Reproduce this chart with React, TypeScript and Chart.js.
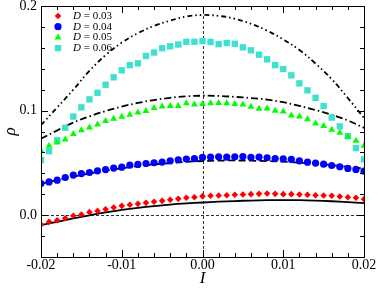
import React, { useEffect, useRef } from 'react';
import { Chart, registerables } from 'chart.js';

Chart.register(...registerables);

// Current I values of the symbols
const I_POINTS = [
  -0.020, -0.019, -0.018, -0.017, -0.016, -0.015, -0.014, -0.013, -0.012, -0.011,
  -0.010, -0.009, -0.008, -0.007, -0.006, -0.005, -0.004, -0.003, -0.002, -0.001,
  0.000, 0.001, 0.002, 0.003, 0.004, 0.005, 0.006, 0.007, 0.008, 0.009,
  0.010, 0.011, 0.012, 0.013, 0.014, 0.015, 0.016, 0.017, 0.018, 0.019, 0.020,
];

// Current I values of the black curves
const I_CURVE = [
  -0.020, -0.018, -0.016, -0.014, -0.012, -0.010, -0.008, -0.006, -0.004, -0.002,
  0.000, 0.002, 0.004, 0.006, 0.008, 0.010, 0.012, 0.014, 0.016, 0.018, 0.020,
];

const D_LABELS = ['0.03', '0.04', '0.05', '0.06'];

const RHO_D003 = [
  -0.0089, -0.0064, -0.0048, -0.0029, -0.0006, 0.0006, 0.0029, 0.0041, 0.0057, 0.0073,
  0.0089, 0.0099, 0.0108, 0.0118, 0.0128, 0.0137, 0.0147, 0.0156, 0.0166, 0.0172,
  0.0182, 0.0185, 0.0188, 0.0191, 0.0195, 0.0198, 0.0201, 0.0204, 0.0207, 0.0204,
  0.0201, 0.0201, 0.0198, 0.0195, 0.0191, 0.0188, 0.0185, 0.0179, 0.0172, 0.0166, 0.0153,
];

const RHO_D004 = [
  0.0303, 0.0318, 0.0335, 0.0360, 0.0383, 0.0398, 0.0408, 0.0424, 0.0436, 0.0450,
  0.0459, 0.0478, 0.0485, 0.0494, 0.0501, 0.0508, 0.0520, 0.0530, 0.0536, 0.0540,
  0.0552, 0.0555, 0.0558, 0.0555, 0.0558, 0.0561, 0.0552, 0.0555, 0.0549, 0.0542,
  0.0539, 0.0533, 0.0520, 0.0507, 0.0498, 0.0488, 0.0475, 0.0463, 0.0447, 0.0437, 0.0421,
];

const RHO_D005 = [
  0.0615, 0.0663, 0.0695, 0.0724, 0.0775, 0.0813, 0.0839, 0.0868, 0.0900, 0.0922,
  0.0941, 0.0960, 0.0982, 0.0995, 0.1024, 0.1040, 0.1043, 0.1043, 0.1069, 0.1059,
  0.1062, 0.1069, 0.1072, 0.1069, 0.1062, 0.1059, 0.1037, 0.1018, 0.1021, 0.0999,
  0.0992, 0.0954, 0.0944, 0.0916, 0.0877, 0.0852, 0.0817, 0.0788, 0.0750, 0.0711, 0.0663,
];

const RHO_D006 = [
  0.0526, 0.0612, 0.0718, 0.0835, 0.0943, 0.1031, 0.1107, 0.1170, 0.1247, 0.1318,
  0.1385, 0.1434, 0.1452, 0.1522, 0.1555, 0.1596, 0.1615, 0.1632, 0.1658, 0.1658,
  0.1665, 0.1656, 0.1636, 0.1646, 0.1639, 0.1605, 0.1576, 0.1534, 0.1490, 0.1435,
  0.1397, 0.1337, 0.1260, 0.1193, 0.1122, 0.1043, 0.0933, 0.0849, 0.0756, 0.0641, 0.0533,
];

const CURVE_D003 = [
  -0.0096, -0.0063, -0.0031, -0.0001, 0.0027, 0.0050, 0.0070, 0.0087, 0.0101, 0.0112,
  0.0121, 0.0129, 0.0135, 0.0140, 0.0143, 0.0144, 0.0143, 0.0139, 0.0133, 0.0125, 0.0115,
];
const CURVE_D004 = [
  0.0300, 0.0335, 0.0368, 0.0398, 0.0425, 0.0448, 0.0468, 0.0485, 0.0498, 0.0510,
  0.0518, 0.0522, 0.0523, 0.0521, 0.0517, 0.0511, 0.0502, 0.0491, 0.0478, 0.0463, 0.0445,
];
const CURVE_D005 = [
  0.0730, 0.0810, 0.0885, 0.0945, 0.0995, 0.1038, 0.1073, 0.1101, 0.1122, 0.1136,
  0.1142, 0.1140, 0.1131, 0.1120, 0.1105, 0.1080, 0.1045, 0.1005, 0.0960, 0.0905, 0.0835,
];
const CURVE_D006 = [
  0.0860, 0.1030, 0.1200, 0.1380, 0.1530, 0.1650, 0.1740, 0.1810, 0.1860, 0.1900,
  0.1914, 0.1905, 0.1878, 0.1830, 0.1765, 0.1680, 0.1580, 0.1450, 0.1300, 0.1120, 0.0930,
];

const X_TICKS = [-0.02, -0.01, 0, 0.01, 0.02];
const X_MINOR_STEP = 0.002;
const Y_TICKS = [0, 0.1, 0.2];
const Y_MINOR_STEP = 0.02;

const SERIES = [
  { values: RHO_D003, color: '#ff0000', style: 'rectRot', radius: 3.3 },
  { values: RHO_D004, color: '#0000ff', style: 'circle', radius: 3.6 },
  { values: RHO_D005, color: '#00ff00', style: 'triangle', radius: 4.0 },
  { values: RHO_D006, color: '#40e0d0', style: 'rect', radius: 4.5 },
];

const CURVES = [
  { values: CURVE_D003, dash: [] as number[] },
  { values: CURVE_D004, dash: [7, 3.5] },
  { values: CURVE_D005, dash: [7, 3, 1.5, 3] },
  { values: CURVE_D006, dash: [5, 3, 1.5, 3, 1.5, 3] },
];

const SERIF = "'Liberation Serif', 'DejaVu Serif', serif";

function drawMarker(ctx: CanvasRenderingContext2D, style: string, x: number, y: number, r: number, color: string) {
  ctx.save();
  ctx.fillStyle = color;
  ctx.beginPath();
  if (style === 'rectRot') {
    ctx.moveTo(x, y - r);
    ctx.lineTo(x + r, y);
    ctx.lineTo(x, y + r);
    ctx.lineTo(x - r, y);
    ctx.closePath();
  } else if (style === 'circle') {
    ctx.arc(x, y, r, 0, Math.PI * 2);
  } else if (style === 'triangle') {
    const s = Math.sin(Math.PI / 3) * r;
    ctx.moveTo(x, y - r);
    ctx.lineTo(x + s, y + r / 2);
    ctx.lineTo(x - s, y + r / 2);
    ctx.closePath();
  } else {
    const h = r * Math.SQRT1_2;
    ctx.rect(x - h, y - h, 2 * h, 2 * h);
  }
  ctx.fill();
  ctx.restore();
}

const framePlugin = {
  id: 'graceFrame',
  beforeDatasetsDraw(chart: any) {
    const { ctx, chartArea: a, scales } = chart;
    const x0 = scales.x.getPixelForValue(0);
    const y0 = scales.y.getPixelForValue(0);
    ctx.save();
    ctx.strokeStyle = '#333';
    ctx.lineWidth = 1;
    ctx.setLineDash([3, 2]);
    ctx.beginPath();
    ctx.moveTo(Math.round(x0) + 0.5, a.top);
    ctx.lineTo(Math.round(x0) + 0.5, a.bottom);
    ctx.moveTo(a.left, Math.round(y0) + 0.5);
    ctx.lineTo(a.right, Math.round(y0) + 0.5);
    ctx.stroke();
    ctx.restore();
  },
  afterDatasetsDraw(chart: any) {
    const { ctx, chartArea: a, scales } = chart;
    const xs = scales.x;
    const ys = scales.y;
    ctx.save();
    ctx.strokeStyle = '#000';
    ctx.lineWidth = 1;
    ctx.setLineDash([]);
    ctx.strokeRect(Math.round(a.left) + 0.5, Math.round(a.top) + 0.5, Math.round(a.right - a.left), Math.round(a.bottom - a.top));
    const MAJ = 7;
    const MIN = 4;
    ctx.beginPath();
    const nx = Math.round((xs.max - xs.min) / X_MINOR_STEP);
    for (let i = 0; i <= nx; i++) {
      const v = xs.min + i * X_MINOR_STEP;
      const major = X_TICKS.some((t) => Math.abs(t - v) < 1e-9);
      const len = major ? MAJ : MIN;
      const px = Math.round(xs.getPixelForValue(v)) + 0.5;
      ctx.moveTo(px, a.bottom);
      ctx.lineTo(px, a.bottom - len);
      ctx.moveTo(px, a.top);
      ctx.lineTo(px, a.top + len);
    }
    const ny = Math.round((ys.max - ys.min) / Y_MINOR_STEP);
    for (let i = 0; i <= ny; i++) {
      const v = ys.min + i * Y_MINOR_STEP;
      const major = Y_TICKS.some((t) => Math.abs(t - v) < 1e-9);
      const len = major ? MAJ : MIN;
      const py = Math.round(ys.getPixelForValue(v)) + 0.5;
      ctx.moveTo(a.left, py);
      ctx.lineTo(a.left + len, py);
      ctx.moveTo(a.right, py);
      ctx.lineTo(a.right - len, py);
    }
    ctx.stroke();

    // legend
    const lx = a.left + 17;
    const tx = a.left + 32;
    const ly0 = a.top + 10;
    const dy = 10.7;
    ctx.fillStyle = '#000';
    ctx.textBaseline = 'middle';
    ctx.textAlign = 'left';
    SERIES.forEach((s, i) => {
      const y = ly0 + i * dy;
      drawMarker(ctx, s.style, lx, y, s.radius, s.color);
      ctx.font = `italic 11px ${SERIF}`;
      ctx.fillText('D', tx, y);
      const w = ctx.measureText('D').width;
      ctx.font = `11px ${SERIF}`;
      ctx.fillText(` = ${D_LABELS[i]}`, tx + w, y);
    });
    ctx.restore();
  },
};

export default function App() {
  const ref = useRef<HTMLCanvasElement | null>(null);
  useEffect(() => {
    document.body.style.margin = '0';
    const canvas = ref.current;
    if (!canvas) return;
    const pointSets = SERIES.map((s, i) => ({
      label: `D = ${D_LABELS[i]}`,
      data: I_POINTS.map((x, k) => ({ x, y: s.values[k] })),
      showLine: false,
      pointStyle: s.style,
      pointRadius: s.radius,
      pointBackgroundColor: s.color,
      pointBorderColor: s.color,
      pointBorderWidth: 0,
      order: 1,
    }));
    const curveSets = CURVES.map((c, i) => ({
      label: `curve ${D_LABELS[i]}`,
      data: I_CURVE.map((x, k) => ({ x, y: c.values[k] })),
      showLine: true,
      borderColor: '#000',
      borderWidth: 1.8,
      borderDash: c.dash,
      pointRadius: 0,
      tension: 0.4,
      fill: false,
      order: 2,
    }));
    const chart = new Chart(canvas, {
      type: 'scatter',
      data: { datasets: [...pointSets, ...curveSets] as any },
      options: {
        animation: false,
        responsive: false,
        maintainAspectRatio: false,
        layout: { padding: { left: 0, right: 14, top: 6, bottom: 0 } },
        plugins: { legend: { display: false }, tooltip: { enabled: false } },
        scales: {
          x: {
            type: 'linear',
            min: -0.02,
            max: 0.02,
            grid: { display: false, drawTicks: false },
            border: { display: false },
            afterBuildTicks: (s: any) => {
              s.ticks = X_TICKS.map((v) => ({ value: v }));
            },
            afterFit: (s: any) => {
              s.height = 32;
              s.paddingLeft = 0;
              s.paddingRight = 0;
            },
            ticks: {
              font: { family: SERIF, size: 14 },
              color: '#000',
              padding: 0,
              maxRotation: 0,
              autoSkip: false,
              callback: (v: any) => Number(v).toFixed(2),
            },
            title: {
              display: true,
              text: 'I',
              color: '#000',
              font: { family: SERIF, size: 17, style: 'italic' },
              padding: { top: 0, bottom: 0 },
            },
          },
          y: {
            type: 'linear',
            min: -0.04,
            max: 0.2,
            grid: { display: false, drawTicks: false },
            border: { display: false },
            afterBuildTicks: (s: any) => {
              s.ticks = Y_TICKS.map((v) => ({ value: v }));
            },
            afterFit: (s: any) => {
              s.width = 41;
              s.paddingTop = 0;
              s.paddingBottom = 0;
            },
            ticks: {
              font: { family: SERIF, size: 14 },
              color: '#000',
              padding: 4,
              autoSkip: false,
              callback: (v: any) => Number(v).toFixed(1),
            },
            title: {
              display: true,
              text: 'ρ',
              color: '#000',
              font: { family: SERIF, size: 17, style: 'italic' },
              padding: { top: 0, bottom: 0 },
            },
          },
        },
      } as any,
      plugins: [framePlugin],
    });
    return () => chart.destroy();
  }, []);
  return (
    <div style={{ width: 378, height: 289 }}>
      <canvas ref={ref} width={378} height={289} style={{ display: 'block', width: 378, height: 289 }} />
    </div>
  );
}
